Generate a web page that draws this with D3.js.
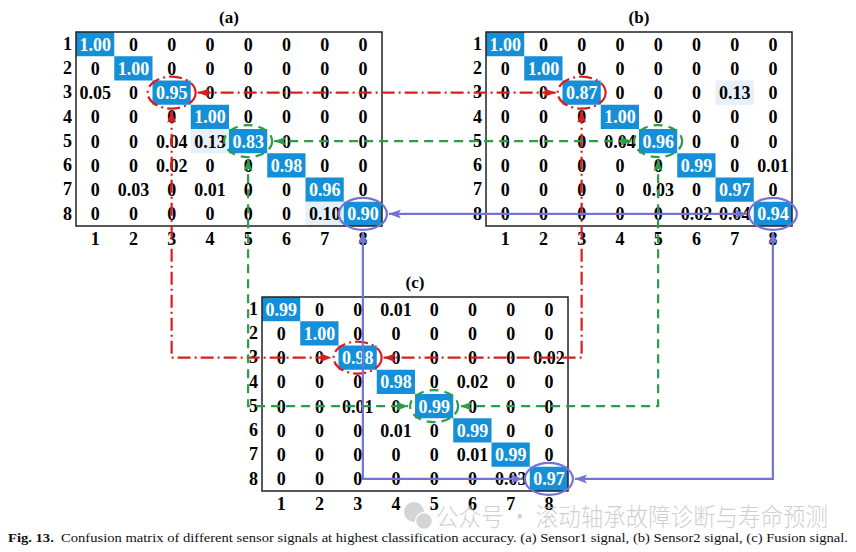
<!DOCTYPE html>
<html>
<head>
<meta charset="utf-8">
<script src="https://cdn.jsdelivr.net/npm/d3@7"></script>
<style>
  html, body { margin: 0; padding: 0; background: #fff; }
  svg { display: block; }
</style>
</head>
<body>
<svg id="chart" width="856" height="552"></svg>
<script>
// class labels shared by all three matrices
const classes = ['1', '2', '3', '4', '5', '6', '7', '8'];

// (a) Sensor1 signal
const matA = [
  [1.00, 0, 0, 0, 0, 0, 0, 0],
  [0, 1.00, 0, 0, 0, 0, 0, 0],
  [0.05, 0, 0.95, 0, 0, 0, 0, 0],
  [0, 0, 0, 1.00, 0, 0, 0, 0],
  [0, 0, 0.04, 0.13, 0.83, 0, 0, 0],
  [0, 0, 0.02, 0, 0, 0.98, 0, 0],
  [0, 0.03, 0, 0.01, 0, 0, 0.96, 0],
  [0, 0, 0, 0, 0, 0, 0.10, 0.90]
];

// (b) Sensor2 signal
const matB = [
  [1.00, 0, 0, 0, 0, 0, 0, 0],
  [0, 1.00, 0, 0, 0, 0, 0, 0],
  [0, 0, 0.87, 0, 0, 0, 0.13, 0],
  [0, 0, 0, 1.00, 0, 0, 0, 0],
  [0, 0, 0, 0.04, 0.96, 0, 0, 0],
  [0, 0, 0, 0, 0, 0.99, 0, 0.01],
  [0, 0, 0, 0, 0.03, 0, 0.97, 0],
  [0, 0, 0, 0, 0, 0.02, 0.04, 0.94]
];

// (c) Fusion signal
const matC = [
  [0.99, 0, 0, 0.01, 0, 0, 0, 0],
  [0, 1.00, 0, 0, 0, 0, 0, 0],
  [0, 0, 0.98, 0, 0, 0, 0, 0.02],
  [0, 0, 0, 0.98, 0, 0.02, 0, 0],
  [0, 0, 0.01, 0, 0.99, 0, 0, 0],
  [0, 0, 0, 0.01, 0, 0.99, 0, 0],
  [0, 0, 0, 0, 0, 0.01, 0.99, 0],
  [0, 0, 0, 0, 0, 0, 0.03, 0.97]
];

const panelTitles = ['(a)', '(b)', '(c)'];

// highlighted classes: which class each connector family links
const links = [
  { cls: '3', kind: 'red' },
  { cls: '5', kind: 'green' },
  { cls: '8', kind: 'blue' }
];

const caption = 'Confusion matrix of different sensor signals at highest classification accuracy. (a) Sensor1 signal, (b) Sensor2 signal, (c) Fusion signal.';
const watermark = '公众号 · 滚动轴承故障诊断与寿命预测';

const svg = d3.select('#chart');
const W = 306, H = 194;
const serif = "'Liberation Serif', 'Times New Roman', serif";

const panels = [
  { key: 'a', mat: matA, x0: 76, y0: 32 },
  { key: 'b', mat: matB, x0: 486, y0: 32 },
  { key: 'c', mat: matC, x0: 262, y0: 297 }
];

const diagBlue = '#1590d8';
const fill = v => v >= 0.5 ? diagBlue : v >= 0.1 ? '#e4f0fa' : 'none';

panels.forEach((p, pi) => {
  p.x = d3.scaleBand().domain(classes).range([p.x0, p.x0 + W]);
  p.y = d3.scaleBand().domain(classes).range([p.y0, p.y0 + H]);
  p.cx = c => p.x(c) + p.x.bandwidth() / 2;
  p.cy = c => p.y(c) + p.y.bandwidth() / 2;

  const g = svg.append('g').attr('class', 'panel-' + p.key);
  const cells = p.mat.flatMap((row, i) => row.map((v, j) => ({ r: classes[i], c: classes[j], v })));

  g.selectAll('.cell')
    .data(cells)
    .enter()
      .append('rect')
      .attr('class', 'cell')
      .attr('x', d => p.x(d.c))
      .attr('y', d => p.y(d.r))
      .attr('width', p.x.bandwidth())
      .attr('height', p.y.bandwidth())
      .attr('fill', d => fill(d.v));

  g.selectAll('.val')
    .data(cells)
    .enter()
      .append('text')
      .attr('class', 'val')
      .attr('x', d => p.cx(d.c))
      .attr('y', d => p.cy(d.r) + 6.5)
      .attr('text-anchor', 'middle')
      .attr('font-family', serif)
      .attr('font-weight', 'bold')
      .attr('font-size', 18)
      .attr('fill', d => d.v >= 0.5 ? '#fff' : '#000')
      .text(d => d.v === 0 ? '0' : d.v.toFixed(2));

  g.append('rect')
    .attr('x', p.x0).attr('y', p.y0)
    .attr('width', W).attr('height', H)
    .attr('fill', 'none').attr('stroke', '#222').attr('stroke-width', 1.5);

  // axes, drawn with d3 and then stripped down to labels only
  const left = g.append('g')
    .attr('transform', `translate(${p.x0},0)`)
    .call(d3.axisLeft(p.y).tickSize(0).tickPadding(4));
  const bottom = g.append('g')
    .attr('transform', `translate(0,${p.y0 + H})`)
    .call(d3.axisBottom(p.x).tickSize(0).tickPadding(6));
  [left, bottom].forEach(ax => {
    ax.select('.domain').remove();
    ax.selectAll('text')
      .attr('font-family', serif)
      .attr('font-weight', 'bold')
      .attr('font-size', 18)
      .attr('fill', '#000');
  });

  g.append('text')
    .attr('x', p.x0 + W / 2)
    .attr('y', p.y0 - 9)
    .attr('text-anchor', 'middle')
    .attr('font-family', serif)
    .attr('font-weight', 'bold')
    .attr('font-size', 17)
    .text(panelTitles[pi]);
});

// connectors
const styles = {
  red: { color: '#d81e1e', dash: '13,4,2,4' },
  green: { color: '#2a9d4a', dash: '9,6' },
  blue: { color: '#7474d6', dash: null }
};

const defs = svg.append('defs');
Object.entries(styles).forEach(([k, s]) => {
  defs.append('marker')
    .attr('id', 'arrow-' + k)
    .attr('viewBox', '0 0 12 10')
    .attr('refX', 12).attr('refY', 5)
    .attr('markerWidth', 12).attr('markerHeight', 10)
    .attr('markerUnits', 'userSpaceOnUse')
    .attr('orient', 'auto-start-reverse')
    .append('path')
      .attr('d', 'M0,0.5 L12,5 L0,9.5 L2.5,5 Z')
      .attr('fill', s.color);
});

const [pa, pb, pc] = panels;
const rx = 24, ry = 16, gap = 2;
const line = d3.line();

const $links = svg.append('g').attr('class', 'links');
links.forEach(l => {
  const s = styles[l.kind];
  const k = l.cls;
  const paths = [
    // (a) <-> (b) along the row
    [[pa.cx(k) + rx + gap, pa.cy(k)], [pb.cx(k) - rx - gap, pb.cy(k)]],
    // (a) down and across into (c)
    [[pa.cx(k), pa.cy(k) + ry + gap], [pa.cx(k), pc.cy(k)], [pc.cx(k) - rx - gap, pc.cy(k)]],
    // (b) down and back into (c)
    [[pb.cx(k), pb.cy(k) + ry + gap], [pb.cx(k), pc.cy(k)], [pc.cx(k) + rx + gap, pc.cy(k)]]
  ];
  paths.forEach(pts => {
    $links.append('path')
      .attr('d', line(pts))
      .attr('fill', 'none')
      .attr('stroke', s.color)
      .attr('stroke-width', 2.2)
      .attr('stroke-dasharray', s.dash)
      .attr('marker-start', `url(#arrow-${l.kind})`)
      .attr('marker-end', `url(#arrow-${l.kind})`);
  });
  [pa, pb, pc].forEach(p => {
    $links.append('ellipse')
      .attr('cx', p.cx(k)).attr('cy', p.cy(k))
      .attr('rx', rx).attr('ry', ry)
      .attr('fill', 'none')
      .attr('stroke', s.color)
      .attr('stroke-width', 2.2)
      .attr('stroke-dasharray', s.dash);
  });
});

// watermark
const wm = svg.append('g').attr('opacity', 0.7);
wm.append('circle').attr('cx', 414).attr('cy', 512).attr('r', 10).attr('fill', '#c2c2c2');
wm.append('circle').attr('cx', 424).attr('cy', 521).attr('r', 8.5).attr('fill', '#c2c2c2').attr('stroke', '#fff').attr('stroke-width', 1.5);
wm.append('text')
  .attr('x', 436).attr('y', 526)
  .attr('font-family', "'Noto Sans CJK SC', sans-serif")
  .attr('font-weight', 300)
  .attr('font-size', 25)
  .attr('fill', '#bdbdbd')
  .attr('textLength', 392)
  .attr('lengthAdjust', 'spacingAndGlyphs')
  .text(watermark);

// caption
const cap = svg.append('text')
  .attr('x', 8).attr('y', 542)
  .attr('font-family', serif)
  .attr('font-size', 12.5)
  .attr('fill', '#111')
  .attr('textLength', 840)
  .attr('lengthAdjust', 'spacingAndGlyphs');
cap.append('tspan').attr('font-weight', 'bold').text('Fig. 13.');
cap.append('tspan').text('\u00a0\u00a0' + caption);
</script>
</body>
</html>
